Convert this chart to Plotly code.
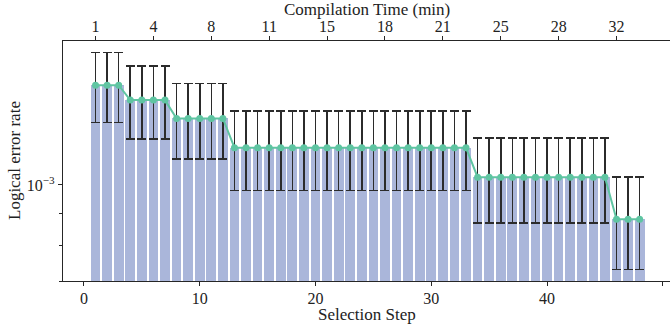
import plotly.graph_objects as go

# ---- data ----
steps = list(range(1, 49))
group_sizes = [3, 4, 5, 21, 12, 3]
group_rates = [1.448e-3, 1.370e-3, 1.280e-3, 1.148e-3, 1.029e-3, 0.880e-3]
group_errs = [0.188e-3, 0.185e-3, 0.178e-3, 0.168e-3, 0.160e-3, 0.149e-3]

error_rate = []
error_bar = []
for n, r, e in zip(group_sizes, group_rates, group_errs):
    error_rate += [r] * n
    error_bar += [e] * n

bottom_ticks = [0, 10, 20, 30, 40, 50]
top_tick_steps = [1, 6, 11, 16, 21, 26, 31, 36, 41, 46]
top_tick_labels = ["1", "4", "8", "11", "15", "18", "21", "25", "28", "32"]

# ---- styling ----
FONT = "Liberation Serif"
FS = 16
TS = 17
AX_COLOR = "#262626"
BAR_COLOR = "#aab6da"
LINE_COLOR = "#5fc5a2"
XR = [-1.81, 50.62]
YR = [-3.1549, -2.768]

fig = go.Figure()
fig.add_trace(go.Bar(
    x=steps, y=error_rate, width=0.84,
    marker=dict(color=BAR_COLOR, line=dict(width=0)),
    error_y=dict(type="data", array=error_bar, symmetric=True,
                 color="#2b2b2b", thickness=1.6, width=4.5),
    showlegend=False,
))
fig.add_trace(go.Scatter(
    x=steps, y=error_rate, mode="lines+markers",
    line=dict(color=LINE_COLOR, width=2),
    marker=dict(color=LINE_COLOR, size=7),
    showlegend=False,
))
fig.add_trace(go.Scatter(x=[None], y=[None], xaxis="x2", yaxis="y",
                         showlegend=False, hoverinfo="skip"))

axis_common = dict(showgrid=False, zeroline=False, automargin=False,
                   showline=True, linecolor=AX_COLOR, linewidth=1.3,
                   ticks="outside", ticklen=4, tickwidth=1, tickcolor=AX_COLOR,
                   tickfont=dict(size=FS))

fig.update_layout(
    width=670, height=327,
    margin=dict(l=63, r=0, t=41, b=46),
    paper_bgcolor="white", plot_bgcolor="white",
    font=dict(family=FONT, size=FS, color="#222"),
    bargap=0,
    xaxis=dict(range=XR, tickvals=bottom_ticks, ticklabelstandoff=-1, **axis_common),
    xaxis2=dict(range=XR, overlaying="x", side="top", ticklabelstandoff=-3,
                tickvals=top_tick_steps, ticktext=top_tick_labels, **axis_common),
    yaxis=dict(type="log", range=YR,
               tickvals=[1e-3], ticktext=["10<sup>−3</sup>"],
               minor=dict(tickvals=[7e-4, 8e-4, 9e-4], ticks="outside", ticklen=2.5,
                          tickwidth=1, tickcolor=AX_COLOR),
               **axis_common),
    annotations=[
        dict(text="Selection Step", xref="paper", yref="paper", x=0.5, y=0,
             xanchor="center", yanchor="middle", yshift=-33, showarrow=False,
             font=dict(size=TS)),
        dict(text="Compilation Time (min)", xref="paper", yref="paper", x=0.5, y=1,
             xanchor="center", yanchor="middle", yshift=32, showarrow=False,
             font=dict(size=TS)),
        dict(text="Logical error rate", xref="paper", yref="paper", x=0, y=0.5,
             xanchor="center", yanchor="middle", xshift=-49, textangle=-90,
             showarrow=False, font=dict(size=TS)),
    ],
)

fig.write_html("out.html", post_script="document.body.style.margin='0';",
               config={"displayModeBar": False})
